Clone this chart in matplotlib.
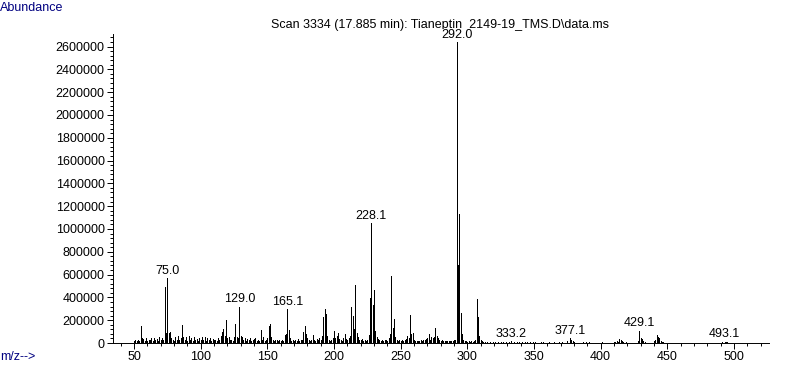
import matplotlib
matplotlib.use("Agg")
import matplotlib.pyplot as plt
from matplotlib.ticker import MultipleLocator, FuncFormatter

# m/z and abundance (in thousands)
mz = [50, 51, 52, 53, 54, 55, 56, 57, 58, 59, 60, 61, 62, 63, 64, 65, 66, 67, 68, 69,
      70, 71, 72, 73, 74, 75, 76, 77, 78, 79, 80, 81, 82, 83, 84, 85, 86, 87, 88, 89,
      90, 91, 92, 93, 94, 95, 96, 97, 98, 99, 100, 101, 102, 103, 104, 105, 106, 107, 108, 109,
      110, 111, 112, 113, 114, 115, 116, 117, 118, 119, 120, 121, 122, 123, 124, 125, 126, 127, 128, 129,
      130, 131, 132, 133, 134, 135, 136, 137, 138, 139, 140, 141, 142, 143, 144, 145, 146, 147, 148, 149,
      150, 151, 152, 153, 154, 155, 156, 157, 158, 159, 160, 161, 162, 163, 164, 165, 166, 167, 168, 169,
      170, 171, 172, 173, 174, 175, 176, 177, 178, 179, 180, 181, 182, 183, 184, 185, 186, 187, 188, 189,
      190, 191, 192, 193, 194, 195, 196, 197, 198, 199, 200, 201, 202, 203, 204, 205, 206, 207, 208, 209,
      210, 211, 212, 213, 214, 215, 216, 217, 218, 219, 220, 221, 222, 223, 224, 225, 226, 227, 228, 229,
      230, 231, 232, 233, 234, 235, 236, 237, 238, 239, 240, 241, 242, 243, 244, 245, 246, 247, 248, 249,
      250, 251, 252, 253, 254, 255, 256, 257, 258, 259, 260, 261, 262, 263, 264, 265, 266, 267, 268, 269,
      270, 271, 272, 273, 274, 275, 276, 277, 278, 279, 280, 281, 282, 283, 284, 285, 286, 287, 288, 289,
      290, 291, 292, 293, 294, 295, 296, 297, 298, 299, 300, 301, 302, 303, 304, 305, 306, 307, 308, 309,
      310, 311, 312, 313, 315, 317, 319, 321, 323, 325, 327, 329, 331, 333, 335, 337, 339, 341, 343, 345,
      347, 349, 351, 355, 357, 361, 365, 369, 371, 375, 377, 378, 379, 380, 387, 389, 391, 401, 405, 410,
      411, 412, 413, 414, 415, 416, 417, 419, 428, 429, 430, 431, 432, 433, 440, 441, 442, 443, 444, 445,
      446, 447, 455, 463, 477, 491, 493, 494, 495, 503]
abund_k = [20, 25, 15, 30, 20, 150, 40, 35, 20, 45, 20, 30, 25, 40, 20, 45, 30, 35, 20, 55,
           25, 40, 30, 495, 85, 568, 90, 100, 40, 30, 20, 50, 30, 60, 25, 40, 158, 50, 25, 50,
           20, 60, 25, 45, 20, 55, 30, 35, 20, 45, 25, 50, 30, 55, 20, 45, 25, 40, 20, 35,
           25, 30, 20, 40, 25, 60, 100, 120, 60, 200, 45, 55, 25, 30, 20, 50, 165, 50, 40, 318,
           60, 55, 25, 45, 20, 35, 25, 40, 20, 25, 35, 45, 20, 30, 20, 110, 30, 50, 20, 30,
           40, 150, 170, 50, 25, 20, 25, 30, 20, 25, 20, 30, 20, 70, 75, 298, 110, 45, 20, 30,
           20, 25, 20, 35, 20, 30, 25, 100, 150, 80, 45, 30, 20, 25, 70, 30, 20, 35, 25, 45,
           30, 60, 230, 296, 255, 60, 30, 20, 25, 45, 105, 40, 60, 90, 35, 30, 20, 40, 80, 35,
           25, 45, 60, 313, 240, 120, 509, 90, 50, 30, 25, 35, 20, 25, 20, 30, 70, 394, 1050, 333,
           465, 105, 50, 35, 25, 20, 30, 20, 25, 30, 20, 45, 75, 588, 130, 210, 55, 30, 20, 25,
           20, 30, 20, 25, 35, 60, 45, 246, 80, 85, 30, 20, 15, 20, 15, 25, 20, 30, 25, 35,
           45, 75, 30, 50, 40, 55, 135, 60, 45, 30, 20, 25, 15, 20, 15, 20, 15, 20, 15, 20,
           25, 30, 2640, 684, 1130, 263, 80, 30, 15, 20, 10, 15, 10, 15, 10, 20, 25, 389, 231, 60,
           30, 15, 10, 8, 10, 6, 8, 10, 12, 8, 10, 8, 12, 15, 10, 8, 6, 8, 10, 6,
           8, 5, 8, 10, 6, 8, 5, 8, 10, 15, 40, 25, 20, 10, 8, 10, 6, 5, 4, 12,
           10, 15, 12, 35, 25, 20, 10, 6, 20, 108, 45, 35, 15, 8, 15, 25, 70, 55, 40, 20,
           10, 6, 4, 4, 4, 6, 10, 8, 5, 3]
abund = [a * 1000 for a in abund_k]

# labelled peaks
label_mz = [75.0, 129.0, 165.1, 228.1, 292.0, 333.2, 377.1, 429.1, 493.1]

fig = plt.figure(figsize=(7.87, 3.67), dpi=100)
ax = fig.add_axes([113 / 787, 1 - 343 / 367, (769 - 113) / 787, (343 - 34) / 367])

ax.vlines(mz, 0, abund, color="black", lw=0.7, antialiased=False)

for lm in label_mz:
    top = max(abund[j] for j in range(len(mz)) if abs(mz[j] - lm) < 2)
    ax.annotate(f"{lm:.1f}", (round(lm), top), xytext=(0, 1), textcoords="offset points",
                ha="center", va="bottom", fontsize=9, family="Liberation Sans",
                bbox=dict(facecolor="white", edgecolor="none", pad=0), zorder=5,
                annotation_clip=False)

ax.set_xlim(34.25, 526.25)
ax.set_ylim(0, 2710000)
ax.xaxis.set_major_locator(MultipleLocator(50))
ax.xaxis.set_minor_locator(MultipleLocator(10))
ax.yaxis.set_major_locator(MultipleLocator(200000))
ax.yaxis.set_minor_locator(MultipleLocator(40000))
ax.yaxis.set_major_formatter(FuncFormatter(lambda v, p: f"{int(v)}"))
ax.xaxis.set_major_formatter(FuncFormatter(lambda v, p: f"{int(v)}"))
ax.tick_params(which="major", direction="out", length=4, width=0.7, labelsize=9, pad=2)
ax.tick_params(which="minor", direction="out", length=2, width=0.7)
for lab in ax.get_xticklabels() + ax.get_yticklabels():
    lab.set_family("Liberation Sans")
ax.spines["top"].set_visible(False)
ax.spines["right"].set_visible(False)
ax.spines["left"].set_linewidth(0.7)
ax.spines["bottom"].set_linewidth(0.7)

fig.text(0.0, 1 - 8 / 367, "Abundance", color="#000080", fontsize=9,
         family="Liberation Sans", ha="left", va="center")
fig.text(0.0, 1 - 357 / 367, "m/z-->", color="#000080", fontsize=9,
         family="Liberation Sans", ha="left", va="center")
fig.text(440 / 787, 1 - 25 / 367, "Scan 3334 (17.885 min): Tianeptin_2149-19_TMS.D\\data.ms",
         fontsize=9, family="Liberation Sans", ha="center", va="center", zorder=-1)

fig.savefig("out.png", dpi=100)
